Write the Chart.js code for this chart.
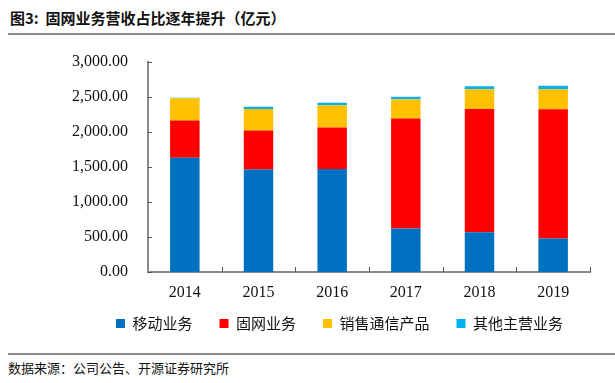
<!DOCTYPE html>
<html>
<head>
<meta charset="utf-8">
<script src="https://cdn.jsdelivr.net/npm/chart.js@4.4.1/dist/chart.umd.min.js"></script>
<style>
  body { margin: 0; background: #fff; }
  #wrap { position: relative; width: 615px; height: 383px; overflow: hidden; }
  #title { position: absolute; left: 10px; top: 7px; font: bold 15px "Noto Sans CJK SC", sans-serif; color: #111; }
  .rule { position: absolute; left: 8px; right: 0; height: 2px; background: #8a8a8a; }
  #source { position: absolute; left: 8px; top: 358px; font: 13px "Noto Sans CJK SC", sans-serif; color: #111; }
  #box { position: absolute; left: 0; top: 40px; width: 615px; height: 312px; }
</style>
</head>
<body>
<div id="wrap">
  <div id="title">图3:&nbsp; 固网业务营收占比逐年提升（亿元）</div>
  <div class="rule" style="top:33px"></div>
  <div id="box"><canvas id="salesChart"></canvas></div>
  <div class="rule" style="top:353px"></div>
  <div id="source">数据来源：公司公告、开源证券研究所</div>
</div>
<script>
// categories and series (亿元)
const years = ['2014', '2015', '2016', '2017', '2018', '2019'];
const mobile = [1629, 1462, 1467, 619, 567, 476];
const fixedLine = [532, 557, 595, 1571, 1757, 1843];
const devices = [315, 305, 314, 272, 281, 286];
const others = [10, 33, 38, 38, 43, 52];

const seriesNames = ['移动业务', '固网业务', '销售通信产品', '其他主营业务'];
const seriesColors = ['#0070C0', '#FF0000', '#FFC000', '#00B0F0'];

// small inward tick marks like the original
const innerTicks = {
    id: 'innerTicks',
    afterDraw(chart) {
        const ctx = chart.ctx;
        const x = chart.scales.x, y = chart.scales.y;
        ctx.save();
        ctx.strokeStyle = '#555';
        ctx.lineWidth = 1;
        ctx.beginPath();
        y.ticks.forEach((t, i) => {
            const py = Math.round(y.getPixelForTick(i)) + 0.5;
            ctx.moveTo(y.right, py);
            ctx.lineTo(y.right + 4, py);
        });
        const step = (x.right - x.left) / years.length;
        for (let i = 1; i <= years.length; i++) {
            const px = Math.round(x.left + i * step) + 0.5;
            ctx.moveTo(px, x.top);
            ctx.lineTo(px, x.top - 5);
        }
        ctx.stroke();
        ctx.restore();
    }
};

// pull the legend a little closer to the axis labels
const legendNudge = {
    id: 'legendNudge',
    afterLayout(chart) {
        chart.legend.top -= 11;
        chart.legend.bottom -= 11;
    }
};

function renderChart() {
    const ctx = document.getElementById('salesChart').getContext('2d');
    const data = [mobile, fixedLine, devices, others];
    const datasets = data.map((d, i) => ({
        label: seriesNames[i],
        data: d,
        backgroundColor: seriesColors[i],
        borderWidth: 0,
        barPercentage: 0.4,
        categoryPercentage: 1.0
    }));

    new Chart(ctx, {
        type: 'bar',
        data: { labels: years, datasets: datasets },
        options: {
            responsive: true,
            maintainAspectRatio: false,
            animation: false,
            layout: { padding: { left: 0, right: 25, top: 19, bottom: 0 } },
            plugins: {
                legend: {
                    position: 'bottom',
                    align: 'end',
                    labels: {
                        boxWidth: 9,
                        boxHeight: 9,
                        padding: 27,
                        color: '#111',
                        font: { family: '"Noto Sans CJK SC", sans-serif', size: 15 }
                    }
                },
                title: { display: false },
                tooltip: { enabled: false }
            },
            scales: {
                x: {
                    stacked: true,
                    grid: { display: false },
                    border: { display: true, color: '#8a8a8a', width: 2 },
                    ticks: { color: '#111', padding: 3, font: { family: '"Liberation Serif", serif', size: 16 } },
                    afterFit: s => { s.height = 28; }
                },
                y: {
                    stacked: true,
                    min: 0,
                    max: 3000,
                    grid: { display: false },
                    border: { display: true, color: '#8a8a8a', width: 2 },
                    ticks: {
                        stepSize: 500,
                        color: '#111',
                        padding: 12,
                        font: { family: '"Liberation Serif", serif', size: 16 },
                        callback: v => v.toLocaleString('en-US', { minimumFractionDigits: 2, maximumFractionDigits: 2 })
                    },
                    afterFit: s => { s.width = 148; }
                }
            }
        },
        plugins: [innerTicks, legendNudge]
    });
}

document.addEventListener('DOMContentLoaded', renderChart);
</script>
</body>
</html>
